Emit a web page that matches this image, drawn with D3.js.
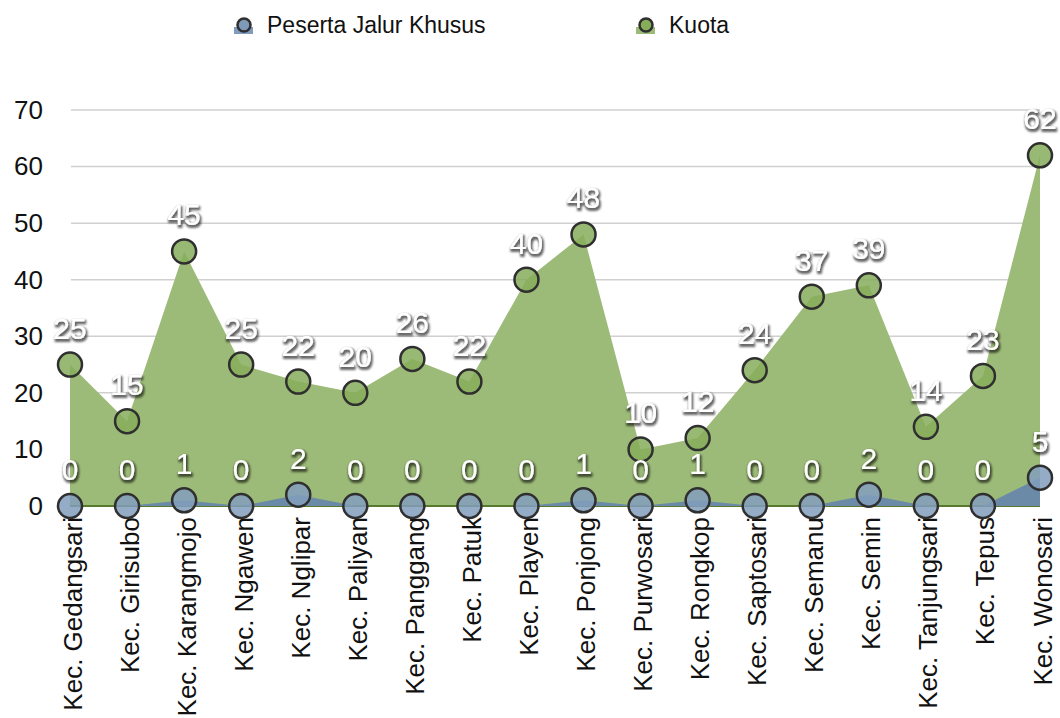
<!DOCTYPE html>
<html>
<head>
<meta charset="utf-8">
<script src="https://cdn.jsdelivr.net/npm/d3@7"></script>
<style>
  body { margin: 0; background: #fff; }
  text { font-family: "Liberation Sans", Arial, sans-serif; }
</style>
</head>
<body>
<script>
// Data
var categories = ["Kec. Gedangsari", "Kec. Girisubo", "Kec. Karangmojo", "Kec. Ngawen", "Kec. Nglipar",
  "Kec. Paliyan", "Kec. Panggang", "Kec. Patuk", "Kec. Playen", "Kec. Ponjong", "Kec. Purwosari",
  "Kec. Rongkop", "Kec. Saptosari", "Kec. Semanu", "Kec. Semin", "Kec. Tanjungsari", "Kec. Tepus",
  "Kec. Wonosari"];
var peserta = [0, 0, 1, 0, 2, 0, 0, 0, 0, 1, 0, 1, 0, 0, 2, 0, 0, 5];
var kuota = [25, 15, 45, 25, 22, 20, 26, 22, 40, 48, 10, 12, 24, 37, 39, 14, 23, 62];
var yTicks = [0, 10, 20, 30, 40, 50, 60, 70];

var svgWidth = 1060;
var svgHeight = 718;

var plot = { left: 70, right: 1040, top: 110, bottom: 506 };

var svg = d3.select("body")
  .append("svg")
  .attr("width", svgWidth)
  .attr("height", svgHeight);

// shadow for data labels
var filter = svg.append("defs").append("filter")
  .attr("id", "shadow")
  .attr("x", "-30%").attr("y", "-30%")
  .attr("width", "160%").attr("height", "160%");
filter.append("feMorphology")
  .attr("in", "SourceAlpha").attr("operator", "dilate").attr("radius", 0.6)
  .attr("result", "thick");
filter.append("feGaussianBlur")
  .attr("in", "thick").attr("stdDeviation", 1.2).attr("result", "blur");
filter.append("feOffset")
  .attr("in", "blur").attr("dx", 1).attr("dy", 1.5).attr("result", "off");
filter.append("feComponentTransfer")
  .attr("in", "off").attr("result", "dark")
  .append("feFuncA").attr("type", "linear").attr("slope", 0.6);
var merge = filter.append("feMerge");
merge.append("feMergeNode").attr("in", "dark");
merge.append("feMergeNode").attr("in", "SourceGraphic");

// scales
var x = d3.scalePoint()
  .domain(categories)
  .range([plot.left, plot.right])
  .padding(0);

var y = d3.scaleLinear()
  .domain([0, 70])
  .range([plot.bottom, plot.top]);

// gridlines
svg.append("g")
  .selectAll("line")
  .data(yTicks.slice(1))
  .enter().append("line")
  .attr("x1", plot.left + 1)
  .attr("x2", plot.right)
  .attr("y1", d => y(d))
  .attr("y2", d => y(d))
  .attr("stroke", "#d0d0d0")
  .attr("stroke-width", 1.5);

// y axis
var leftAxis = d3.axisLeft(y).tickValues(yTicks).tickSize(0).tickPadding(28);
var yAxis = svg.append("g")
  .attr("transform", `translate(${plot.left + 1}, 0)`)
  .call(leftAxis);
yAxis.select(".domain").remove();
yAxis.selectAll("text")
  .attr("font-size", 26)
  .attr("fill", "#111")
  .style("font-family", "'Liberation Sans', Arial, sans-serif");

// areas
var area = d3.area()
  .x((d, i) => x(categories[i]))
  .y0(y(0))
  .y1(d => y(d));

svg.append("path")
  .datum(kuota)
  .attr("d", area)
  .attr("fill", "#9dbb78");

svg.append("line")
  .attr("x1", plot.left)
  .attr("x2", plot.right)
  .attr("y1", y(0))
  .attr("y2", y(0))
  .attr("stroke", "#587a2c")
  .attr("stroke-width", 2);

svg.append("path")
  .datum(peserta)
  .attr("d", area)
  .attr("fill", "#6a8aa7");

// x axis
var bottomAxis = d3.axisBottom(x).tickSize(0);
var xAxis = svg.append("g")
  .attr("transform", `translate(0, ${y(0)})`)
  .call(bottomAxis);
xAxis.select(".domain").remove();
xAxis.selectAll("text")
  .attr("transform", "rotate(-90)")
  .attr("x", -11)
  .attr("y", 0)
  .attr("dy", 11)
  .attr("text-anchor", "end")
  .attr("font-size", 26)
  .attr("fill", "#111")
  .style("font-family", "'Liberation Sans', Arial, sans-serif");

// markers
function drawMarkers(values, fill) {
  svg.append("g")
    .selectAll("circle")
    .data(values)
    .enter().append("circle")
    .attr("cx", (d, i) => x(categories[i]))
    .attr("cy", d => y(d))
    .attr("r", 12)
    .attr("fill", fill)
    .attr("fill-opacity", 0.85)
    .attr("stroke", "#2f2f2f")
    .attr("stroke-width", 2.5);
}
drawMarkers(kuota, "#86ad5a");
drawMarkers(peserta, "#829dbd");

// data labels
function drawLabels(values) {
  svg.append("g")
    .selectAll("text")
    .data(values)
    .enter().append("text")
    .attr("x", (d, i) => x(categories[i]))
    .attr("y", d => y(d) - 26)
    .attr("text-anchor", "middle")
    .attr("font-size", 30)
    .attr("fill", "#fff")
    .attr("filter", "url(#shadow)")
    .text(d => d);
}
drawLabels(kuota);
drawLabels(peserta);

// legend
var legendItems = [
  { name: "Peserta Jalur Khusus", x: 234, area: "#7f9cbf", marker: "#7f9ab8" },
  { name: "Kuota", x: 636, area: "#9dbb78", marker: "#86ad5a" }
];
var legend = svg.append("g")
  .selectAll("g")
  .data(legendItems)
  .enter().append("g")
  .attr("transform", d => `translate(${d.x}, 0)`);

legend.append("rect")
  .attr("x", 0).attr("y", 27)
  .attr("width", 19).attr("height", 7)
  .attr("fill", d => d.area);

legend.append("circle")
  .attr("cx", 10).attr("cy", 25)
  .attr("r", 6.5)
  .attr("fill", d => d.marker)
  .attr("stroke", "#2f2f2f")
  .attr("stroke-width", 2.5);

legend.append("text")
  .attr("x", 33).attr("y", 33)
  .attr("font-size", 23)
  .attr("fill", "#111")
  .text(d => d.name);
</script>
</body>
</html>
